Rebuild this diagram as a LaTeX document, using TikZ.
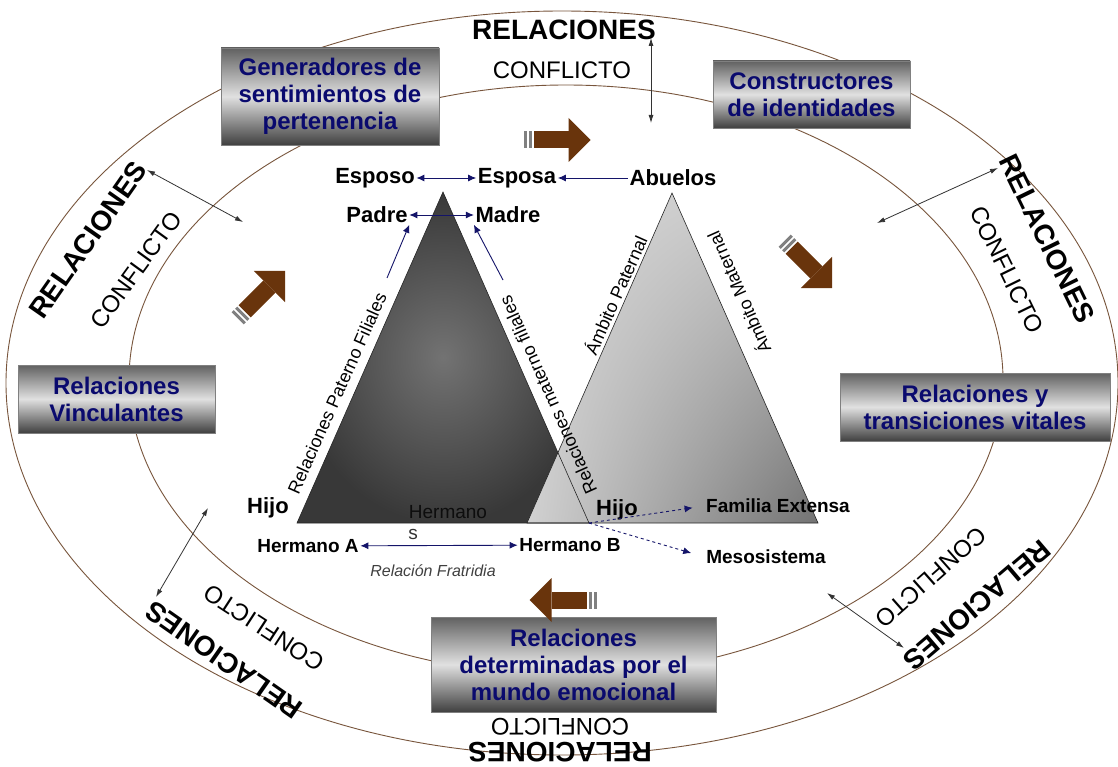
\documentclass[tikz,border=0pt]{standalone}
\usepackage{fontspec}
\setmainfont{Liberation Sans}
\usetikzlibrary{positioning,arrows.meta,calc,shadings}

\definecolor{boxtext}{RGB}{10,10,110}
\definecolor{navyline}{RGB}{20,20,105}
\definecolor{ringline}{RGB}{120,85,60}
\definecolor{brownarr}{RGB}{105,52,12}

\begin{document}
\begin{tikzpicture}[
  x=1pt, y=-1pt,
  >=Latex,
  box/.style={draw=black!50, line width=0.5pt, top color=black!62, bottom color=black!75,
    middle color=black!12, text=boxtext, font=\fontsize{24}{27}\selectfont\bfseries,
    align=center, inner sep=0pt},
  rel/.style={font=\fontsize{28}{28}\selectfont\bfseries, inner sep=0pt},
  conf/.style={font=\fontsize{24}{24}\selectfont, inner sep=0pt},
  kin/.style={font=\fontsize{22}{22}\selectfont\bfseries, inner sep=1.5pt},
  small/.style={font=\fontsize{19}{19}\selectfont\bfseries, inner sep=1.5pt},
  side/.style={font=\fontsize{18}{18}\selectfont, inner sep=0pt},
  ring/.style={draw=ringline, line width=0.9pt},
  dbl/.style={<->, >={Latex[length=8pt,width=5pt]}, black!80, line width=0.8pt},
  nv/.style={navyline, line width=0.9pt, >={Latex[length=8pt,width=7pt]}},
  brownarrow/.pic={
    \fill[brownarr] (-23,-8.5) rectangle (12,8.5);
    \fill[brownarr] (12,-22) -- (34,0) -- (12,22) -- cycle;
    \fill[black!50] (-33,-8.5) rectangle (-30,8.5);
    \fill[black!50] (-28,-8.5) rectangle (-25,8.5);
  }
]
  \fill[white] (0,0) rectangle (1118,767);
  \useasboundingbox (0,0) rectangle (1118,767);

  % rings
  \draw[ring] (562,383) ellipse [x radius=556, y radius=372];
  \draw[ring] (566,380) ellipse [x radius=437, y radius=295];

  % ring labels
  \node[rel] (relT) at (564,30) {RELACIONES};
  \node[conf] (confT) at (562,70) {CONFLICTO};
  \node[rel, rotate=55] (relL) at (88,240) {RELACIONES};
  \node[conf, rotate=54] (confL) at (136,270) {CONFLICTO};
  \node[rel, rotate=-64] (relR) at (1047,239) {RELACIONES};
  \node[conf, rotate=-64] (confR) at (1007,270) {CONFLICTO};
  \node[rel, rotate=145] (relBL) at (224,660) {RELACIONES};
  \node[conf, rotate=147] (confBL) at (264,628) {CONFLICTO};
  \node[rel, rotate=220.5] (relBR) at (977,605) {RELACIONES};
  \node[conf, rotate=221.5] (confBR) at (931,577) {CONFLICTO};
  \node[rel, rotate=180] (relB) at (560,752) {RELACIONES};
  \node[conf, rotate=180] (confB) at (560,727) {CONFLICTO};

  % ring crossings
  \coordinate (ta1) at (651,38);  \coordinate (ta2) at (651,123);
  \coordinate (la1) at (147,170); \coordinate (la2) at (243,222);
  \coordinate (ra1) at (998,168); \coordinate (ra2) at (877,223);
  \coordinate (ba1) at (208,508); \coordinate (ba2) at (156,597);
  \coordinate (bb1) at (827,593); \coordinate (bb2) at (904,648);
  \draw[dbl] (ta1) -- (ta2);
  \draw[dbl] (la1) -- (la2);
  \draw[dbl] (ra1) -- (ra2);
  \draw[dbl] (ba1) -- (ba2);
  \draw[dbl] (bb1) -- (bb2);

  % boxes
  \node[box, minimum width=218, minimum height=97] (gen) at (330,96.5)
    {Generadores de\\sentimientos de\\pertenencia};
  \node[box, minimum width=197, minimum height=67] (cons) at (811.5,94.5)
    {Constructores\\de identidades};
  \node[box, minimum width=197, minimum height=68] (vinc) at (116.5,399)
    {Relaciones\\Vinculantes};
  \node[box, minimum width=270, minimum height=68] (trans) at (975,407)
    {Relaciones y\\transiciones vitales};
  \node[box, minimum width=285, minimum height=95] (emoc) at (573.5,664.5)
    {Relaciones\\determinadas por el\\mundo emocional};

  % brown arrows
  \pic at (556.5,140) {brownarrow};
  \pic[rotate=45] at (261,295) {brownarrow};
  \pic[rotate=-45] at (808,264) {brownarrow};
  \pic[rotate=180] at (563.5,600) {brownarrow};

  % triangles
  \coordinate (dA) at (443,192); \coordinate (dL) at (297,523); \coordinate (dR) at (589,523);
  \coordinate (lA) at (672,193); \coordinate (lL) at (527,523); \coordinate (lR) at (818,523);
  \shade[inner color=black!55, outer color=black!78] (dA) -- (dL) -- (dR) -- cycle;
  \shade[upper left=black!15, upper right=black!22, lower left=black!18, lower right=black!55]
    (lA) -- (lL) -- (lR) -- cycle;
  \draw[black!85, line width=0.6pt] (lA) -- (lL) -- (lR) -- cycle;
  \draw[black!85, line width=0.6pt] (dA) -- (dL) -- (dR) -- cycle;

  % side labels
  \node[side, rotate=66] (patf) at (337,393) {Relaciones Paterno Filiales};
  \node[side, rotate=114] (matf) at (548,395) {Relaciones materno filiales};
  \node[side, rotate=66] (ampat) at (615,295) {Ámbito Paternal};
  \node[side, rotate=114] (ammat) at (738,293) {Ámbito Maternal};

  % family
  \node[kin] (esposo) at (375,178) {Esposo};
  \node[kin] (esposa) at (517,178) {Esposa};
  \node[kin] (abuelos) at (673,178) {Abuelos};
  \node[kin] (padre) at (377,215) {Padre};
  \node[kin] (madre) at (508,215) {Madre};
  \node[kin] (hijoL) at (268,508) {Hijo};
  \node[kin] (hijoR) at (617,510) {Hijo};
  \node[font=\fontsize{19}{19}\selectfont, text=black!95, inner sep=0pt] (herm1) at (448,512) {Hermano};
  \node[font=\fontsize{19}{19}\selectfont, text=black!80, inner sep=0pt] (herm2) at (413,534) {s};
  \node[small] (hermA) at (308,546) {Hermano A};
  \node[small] (hermB) at (570,545) {Hermano B};
  \node[font=\fontsize{16}{16}\selectfont\itshape, text=black!75] (frat) at (433,571) {Relación Fratridia};
  \node[small] (familia) at (778,506) {Familia Extensa};
  \node[small] (meso) at (766,557) {Mesosistema};

  \draw[nv, <->] (esposo) -- (esposa);
  \draw[nv, ->] (abuelos) -- (esposa);
  \draw[nv, <->] (padre) -- (madre);
  \draw[nv, <->] (hermA) -- (hermB);
  \coordinate (pfa) at (387,278);
  \coordinate (mfa) at (503,280);
  \draw[nv, ->] (pfa) -- (padre.south east);
  \draw[nv, ->] (mfa) -- (madre.south west);
  \draw[nv, ->, dashed, shorten >=12pt] (dR) -- (familia.west);
  \draw[nv, ->, dashed, shorten >=14pt] (dR) -- (meso.west);
\end{tikzpicture}
\end{document}
